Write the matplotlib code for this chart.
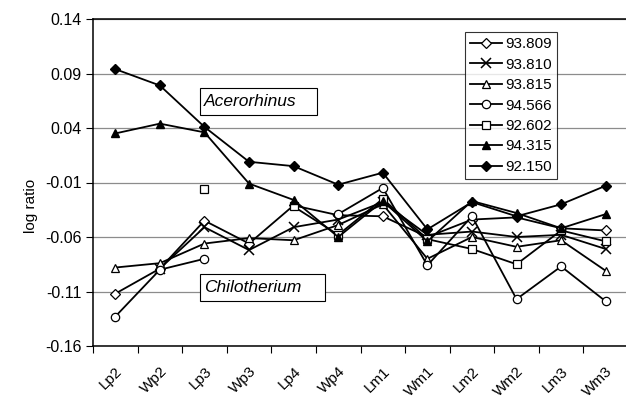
import numpy as np
import matplotlib.pyplot as plt
from matplotlib.patches import Rectangle
from matplotlib.transforms import ScaledTranslation

plt.rcParams['font.family'] = ['Liberation Sans', 'DejaVu Sans']

nan = np.nan
teeth = ['Lp2', 'Wp2', 'Lp3', 'Wp3', 'Lp4', 'Wp4', 'Lm1', 'Wm1', 'Lm2', 'Wm2', 'Lm3', 'Wm3']

s93809 = [-0.112, -0.089, -0.045, -0.066, -0.031, -0.040, -0.041, -0.060, -0.044, -0.042, -0.052, -0.054]
s93810 = [nan, -0.089, -0.051, -0.072, -0.051, -0.044, -0.028, -0.058, -0.055, -0.060, -0.058, -0.071]
s93815 = [-0.088, -0.084, -0.066, -0.061, -0.063, -0.049, -0.030, -0.080, -0.060, -0.069, -0.063, -0.091]
s94566 = [-0.133, -0.090, -0.080, nan, nan, -0.039, -0.015, -0.086, -0.041, -0.117, -0.087, -0.119]
s92602 = [nan, nan, -0.016, nan, -0.032, -0.058, -0.025, -0.062, -0.071, -0.085, -0.054, -0.064]
s94315 = [0.035, 0.044, 0.036, -0.011, -0.026, -0.060, -0.027, -0.064, -0.027, -0.038, -0.052, -0.039]
s92150 = [0.094, 0.079, 0.041, 0.009, 0.005, -0.012, -0.001, -0.053, -0.028, -0.041, -0.030, -0.013]

yticks = [0.14, 0.09, 0.04, -0.01, -0.06, -0.11, -0.16]

fig = plt.figure(figsize=(6.26, 4.03), dpi=100)
ax = fig.add_axes([93 / 626, 57 / 403, 535 / 626, 327 / 403])

x = np.arange(len(teeth))
lw = 1.3
ax.plot(x, s93809, '-D', color='k', lw=lw, ms=5, mfc='white', mew=0.9, label='93.809')
ax.plot(x, s93810, '-x', color='k', lw=lw, ms=6.5, mew=1.1, label='93.810')
ax.plot(x, s93815, '-^', color='k', lw=lw, ms=6, mfc='white', mew=0.9, label='93.815')
ax.plot(x, s94566, '-o', color='k', lw=lw, ms=6, mfc='white', mew=0.9, label='94.566')
ax.plot(x, s92602, '-s', color='k', lw=lw, ms=5.5, mfc='white', mew=0.9, label='92.602')
ax.plot(x, s94315, '-^', color='k', lw=lw, ms=6, label='94.315')
ax.plot(x, s92150, '-D', color='k', lw=lw, ms=5, label='92.150')

ax.set_xlim(-0.5, len(teeth) - 0.5)
ax.set_ylim(-0.16, 0.14)
ax.set_yticks(yticks)
ax.set_yticklabels(['%.2f' % v for v in yticks], fontsize=11.5)
ax.yaxis.grid(True, color='#8c8c8c', lw=0.9)
ax.set_axisbelow(True)

ax.set_xticks(x)
ax.set_xticklabels(teeth, rotation=45, ha='right', va='top', rotation_mode='anchor', fontsize=11)
shift = ScaledTranslation(-5 / 100, 0, fig.dpi_scale_trans)
for lab in ax.get_xticklabels():
    lab.set_transform(lab.get_transform() + shift)
ax.set_xticks(np.arange(-0.5, len(teeth), 1), minor=True)
ax.tick_params(axis='x', which='major', length=0, pad=13)
ax.tick_params(axis='x', which='minor', length=5, width=0.8, direction='out')
ax.tick_params(axis='y', length=5, width=0.8, direction='out', pad=3)
for sp in ax.spines.values():
    sp.set_linewidth(1.1)

fig.text(31 / 626, 1 - 206 / 403, 'log ratio', rotation=90, ha='center', va='center', fontsize=11)

# species labels in boxes
for x0, y0, x1, y1, name in [(200, 88, 317, 115, 'Acerorhinus'), (200, 274, 325, 301, 'Chilotherium')]:
    fig.patches.append(Rectangle((x0 / 626, 1 - y1 / 403), (x1 - x0) / 626, (y1 - y0) / 403,
                                 transform=fig.transFigure, fc='white', ec='k', lw=0.8, zorder=5))
    fig.text((x0 + 4) / 626, 1 - (y0 + y1) / 2 / 403, name, style='italic', fontsize=12.5,
             ha='left', va='center', zorder=6)

leg = fig.legend(loc='upper left', bbox_to_anchor=(465 / 626, 1 - 32 / 403), fontsize=11,
                 frameon=True, fancybox=False, borderaxespad=0, handlelength=2.1,
                 handletextpad=0.2, labelspacing=0.42, borderpad=0.35)
leg.get_frame().set_edgecolor('k')
leg.get_frame().set_linewidth(0.8)

fig.savefig('out.png', dpi=100)
